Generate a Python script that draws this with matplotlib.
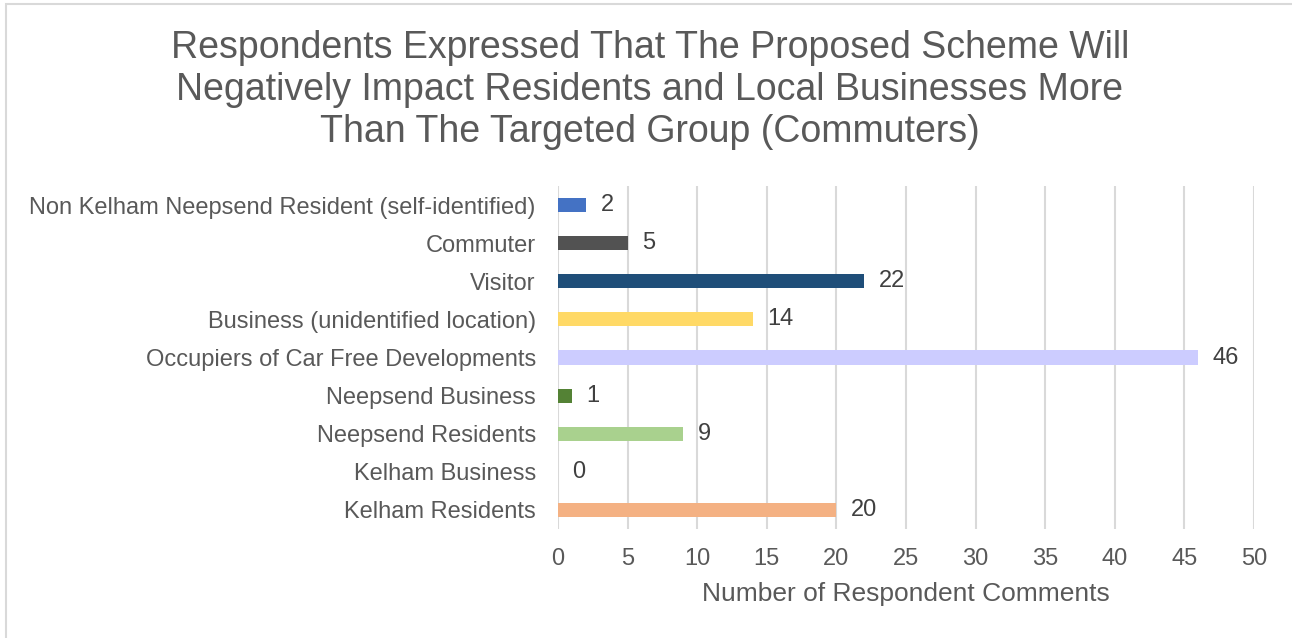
import matplotlib
matplotlib.use("Agg")
import matplotlib.pyplot as plt
from matplotlib.patches import Rectangle

categories = ["Kelham Residents", "Kelham Business", "Neepsend Residents", "Neepsend Business",
              "Occupiers of Car Free Developments", "Business (unidentified location)",
              "Visitor", "Commuter", "Non Kelham Neepsend Resident (self-identified)"]
values = [20, 0, 9, 1, 46, 14, 22, 5, 2]
colors = ["#F4B183", "#9DC3E6", "#A9D18E", "#548235", "#CCCCFF", "#FFD966",
          "#1F4E79", "#525252", "#4472C4"]
xticks = [0, 5, 10, 15, 20, 25, 30, 35, 40, 45, 50]
title = ("Respondents Expressed That The Proposed Scheme Will\n"
         "Negatively Impact Residents and Local Businesses More\n"
         "Than The Targeted Group (Commuters)")
xlabel = "Number of Respondent Comments"

plt.rcParams['font.family'] = ['Liberation Sans', 'DejaVu Sans']
W, H = 1292, 638
fig = plt.figure(figsize=(W / 100, H / 100), dpi=100)
fig.patch.set_facecolor("white")
fig.patches.append(Rectangle((6 / W, -0.05), 1.2, 1 - 4 / H + 0.05, transform=fig.transFigure,
                             fill=False, edgecolor="#D9D9D9", linewidth=1.5))

ax = fig.add_axes([558 / W, 1 - 529 / H, (1254 - 558) / W, (529 - 186) / H])
y = list(range(len(categories)))
ax.barh(y, values, height=0.37, color=colors, zorder=3)
for yi, v in zip(y, values):
    ax.text(v + 1.05, yi, str(v), va="center", ha="left", fontsize=17, color="#404040")

ax.set_xlim(0, 50)
ax.set_ylim(-0.5, len(categories) - 0.5)
ax.set_xticks(xticks)
ax.set_yticks(y)
ax.set_yticklabels(categories)
ax.tick_params(axis="x", length=0, labelsize=17, labelcolor="#595959", pad=14)
ax.tick_params(axis="y", length=0, labelsize=17, labelcolor="#595959", pad=16)
ax.grid(axis="x", color="#D9D9D9", linewidth=1.5, zorder=0)
for s in ax.spines.values():
    s.set_visible(False)
ax.set_xlabel(xlabel, fontsize=19, color="#595959", labelpad=8)

fig.text(650 / W, 1 - 90 / H, title, ha="center", va="center", fontsize=27,
         color="#595959", linespacing=1.2)

fig.savefig("out.png", dpi=100)
